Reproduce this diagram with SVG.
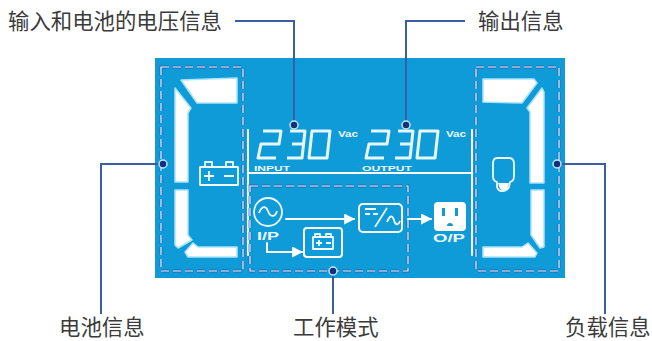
<svg xmlns="http://www.w3.org/2000/svg" width="652" height="341" viewBox="0 0 652 341">
<defs>
<style>
.lbl{font-family:"Noto Sans CJK SC","Liberation Sans",sans-serif;font-size:21.4px;fill:#3b3b3b}
.seg{fill:#fff;stroke:#a9e3f7;stroke-width:1.5;stroke-linejoin:round}
.ln{fill:none;stroke:#fff;stroke-width:2;stroke-linecap:round;stroke-linejoin:round}
.dig{fill:none;stroke:#e6f8fe;stroke-width:3;stroke-linejoin:round}
.thin{fill:none;stroke:#eefaff;stroke-width:1.8;stroke-linejoin:round}
.dashO{fill:none;stroke:#2a62ad;stroke-width:2.8;stroke-dasharray:8 4}
.dashI{fill:none;stroke:#e8f8fe;stroke-width:1.2;stroke-dasharray:8 4}
.cap{font-family:"Liberation Sans",sans-serif;font-weight:bold;fill:#eefaff}
.conn{fill:none;stroke:#3a5da3;stroke-width:2}
.dot{fill:#16307f;stroke:#bfe8f8;stroke-width:1.5}
</style>
<marker id="ah" viewBox="0 0 10 10" refX="9" refY="5" markerWidth="5.5" markerHeight="5.5" orient="auto"><path d="M0 0L10 5L0 10Z" fill="#fff"/></marker>
<g id="digits">
<path class="dig" d="M7 2H25L23 15H5L2 29H20"/>
<path class="dig" d="M34 2H49L46 29H31M36 15H47"/>
<path class="dig" d="M56 2H74L71 29H53Z"/>
</g>
</defs>
<rect x="155" y="58" width="410" height="220" fill="#0f9bd8"/>
<g id="battery-info">
<rect class="dashO" x="161" y="67" width="82" height="204"/>
<rect class="dashI" x="161" y="67" width="82" height="204"/>
<path class="seg" d="M181 80L237 78V103H197Z"/>
<path class="seg" d="M175 88L191 108L188 113V182H175Z"/>
<path class="seg" d="M175 190H188V235L192 240L178 248L175 245Z"/>
<path class="seg" d="M185 252L193 243L198 247H237V257H188Z"/>
<path class="thin" d="M200 167H238V185H200ZM205 167V162H212V167M226 167V162H233V167M204 176H214M209 171V181M224 176H234"/>
</g>
<g id="voltage-info">
<path class="ln" d="M248 130V255M472 130V255M248 173H472"/>
<use href="#digits" x="256" y="129"/>
<use href="#digits" x="364" y="129"/>
<text class="cap" x="254" y="171" font-size="8" textLength="36" lengthAdjust="spacingAndGlyphs">INPUT</text>
<text class="cap" x="362" y="171" font-size="8" textLength="50" lengthAdjust="spacingAndGlyphs">OUTPUT</text>
<text class="cap" x="338" y="137" font-size="9" textLength="20" lengthAdjust="spacingAndGlyphs">Vac</text>
<text class="cap" x="446" y="137" font-size="9" textLength="20" lengthAdjust="spacingAndGlyphs">Vac</text>
</g>
<g id="work-mode">
<rect class="dashO" x="250" y="186" width="158" height="85"/>
<rect class="dashI" x="250" y="186" width="158" height="85"/>
<circle class="thin" cx="268" cy="212" r="14"/>
<path class="thin" d="M259 213C262 205 266 206 268 211C270 217 275 218 277 211"/>
<text class="cap" x="257" y="240" font-size="10" textLength="22" lengthAdjust="spacingAndGlyphs">I/P</text>
<path class="ln" d="M286 219H354" marker-end="url(#ah)"/>
<rect class="ln" x="359" y="204" width="43" height="28" rx="4"/>
<path class="thin" d="M365 209H376M365 214H370M373 214H378M375 227L387 208M387 222C390 215 392 215 394 220C395 225 398 226 400 221"/>
<path class="ln" d="M408 219H431" marker-end="url(#ah)"/>
<g>
<rect x="434" y="202" width="32" height="29" rx="4" fill="#fff"/>
<path d="M442 208h3v8h-3zM455 208h3v8h-3z" fill="#0f9bd8"/>
<path d="M447 226a3 3 0 0 1 6 0z" fill="#0f9bd8"/>
</g>
<text class="cap" x="433" y="242" font-size="10" textLength="32" lengthAdjust="spacingAndGlyphs">O/P</text>
<path class="ln" d="M267 243V252H302" marker-end="url(#ah)"/>
<rect class="ln" x="304" y="228" width="38" height="29" rx="3"/>
<path class="thin" d="M313 237H333V249H313ZM315 237V234H320V237M326 237V234H331V237M316 243H322M319 240V246M326 243H331"/>
</g>
<g id="load-info">
<rect class="dashO" x="476" y="67" width="83" height="204"/>
<rect class="dashI" x="476" y="67" width="83" height="204"/>
<path class="seg" d="M483 79H534L537 83L522 103L483 102Z"/>
<path class="seg" d="M542 88L544 92V183H530V112L527 108Z"/>
<path class="seg" d="M531 190H544V247L540 248L531 235Z"/>
<path class="seg" d="M483 247H522L528 243L537 253L535 257H483Z"/>
<path class="thin" d="M497 158H509Q514 158 514 164V176Q514 181 510 182L509 187Q507 191 502 191Q498 191 497 187V182Q493 181 493 176V164Q493 158 497 158Z"/>
<path d="M498 183H509L507 189Q503 191 500 189Z" fill="#fff"/>
</g>
<g id="connectors">
<path class="conn" d="M235 21H294V125"/>
<path class="conn" d="M465 21H406V125"/>
<path class="conn" d="M163 164H101V314"/>
<path class="conn" d="M333 271V314"/>
<path class="conn" d="M557 164H605V314"/>
<circle class="dot" cx="294" cy="125" r="4"/>
<circle class="dot" cx="406" cy="125" r="4"/>
<circle class="dot" cx="163" cy="164" r="4"/>
<circle class="dot" cx="333" cy="271" r="4"/>
<circle class="dot" cx="557" cy="164" r="4"/>
</g>
<g id="labels">
<text class="lbl" x="8" y="29">输入和电池的电压信息</text>
<text class="lbl" x="478" y="29">输出信息</text>
<text class="lbl" x="59" y="335">电池信息</text>
<text class="lbl" x="293" y="335">工作模式</text>
<text class="lbl" x="565" y="335">负载信息</text>
</g>
</svg>
